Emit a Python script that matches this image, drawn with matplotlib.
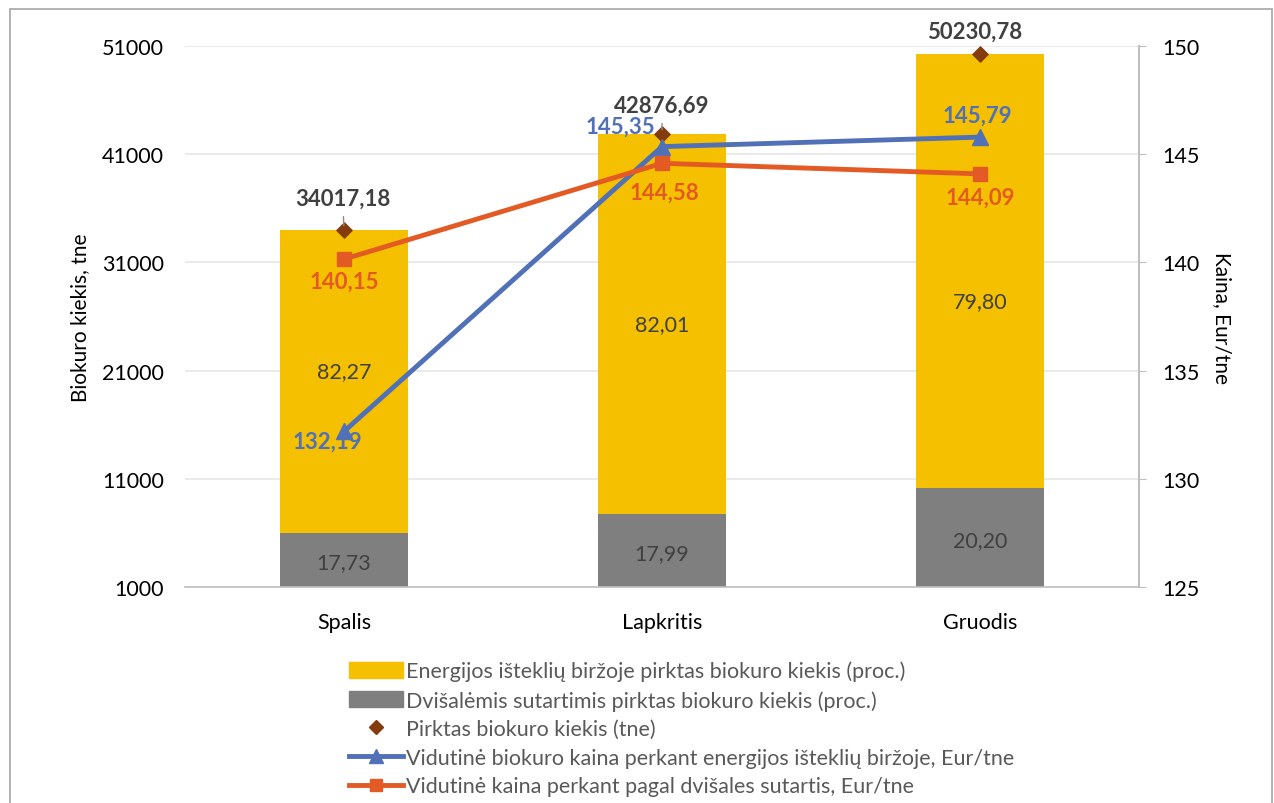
import matplotlib
matplotlib.use("Agg")
import matplotlib.pyplot as plt
from matplotlib.patches import Patch, Rectangle
from matplotlib.lines import Line2D

plt.rcParams['font.family'] = ['Lato', 'DejaVu Sans']

# duomenys
menesiai = ['Spalis', 'Lapkritis', 'Gruodis']
kiekis_tne = [34017.18, 42876.69, 50230.78]
birza_proc = [82.27, 82.01, 79.80]
dvisales_proc = [17.73, 17.99, 20.20]
kaina_birza = [132.19, 145.35, 145.79]
kaina_dvisales = [140.15, 144.58, 144.09]

c_geltona = '#F4C000'
c_pilka = '#7F7F7F'
c_melyna = '#5070B8'
c_oranzine = '#E35A24'
c_ruda = '#843C0C'
c_tekstas = '#404040'
fs = 15.5

def fmt(v):
    return f'{v:.2f}'.replace('.', ',')

fig = plt.figure(figsize=(12.74, 8.04), dpi=100)
ax = fig.add_axes([185/1274, 1-588/804, (1139-185)/1274, (588-47)/804])
ax2 = ax.twinx()

x = list(range(len(menesiai)))
dvisales_tne = [k * p / 100 for k, p in zip(kiekis_tne, dvisales_proc)]
birza_tne = [k - d for k, d in zip(kiekis_tne, dvisales_tne)]

ax.bar(x, dvisales_tne, width=0.4, color=c_pilka, zorder=2)
ax.bar(x, birza_tne, width=0.4, bottom=dvisales_tne, color=c_geltona, zorder=2)
ax.scatter(x, kiekis_tne, marker='D', s=60, color=c_ruda, zorder=3)

ax.set_xlim(-0.5, 2.5)
ax.set_ylim(1000, 51000)
ax.set_yticks(range(1000, 51001, 10000))
ax.set_xticks(x)
ax.set_xticklabels(menesiai)
ax.grid(axis='y', color='#E6E6E6', lw=1.2, zorder=0)
ax.set_axisbelow(True)
for s in ['top', 'left', 'right']:
    ax.spines[s].set_visible(False)
ax.spines['bottom'].set_color('#BFBFBF')
ax.spines['bottom'].set_linewidth(1.2)
ax.tick_params(axis='y', length=0, labelsize=fs, colors='black', pad=15)
ax.tick_params(axis='x', length=0, labelsize=fs, colors='black', pad=18)
ax.set_ylabel('Biokuro kiekis, tne', fontsize=15, labelpad=9)

# procentai stulpeliuose
pct_dy = [10, 0, -30]
for i in x:
    apacia = max(dvisales_tne[i], 1000)
    ax.annotate(fmt(dvisales_proc[i]), xy=(i, (1000 + apacia) / 2), xytext=(0, -2),
                textcoords='offset points', ha='center', va='center', fontsize=fs, color=c_tekstas)
    ax.annotate(fmt(birza_proc[i]), xy=(i, (dvisales_tne[i] + kiekis_tne[i]) / 2),
                xytext=(0, pct_dy[i] * 0.72), textcoords='offset points',
                ha='center', va='center', fontsize=fs, color=c_tekstas)

# bendras kiekis
kiekis_off = [(-1, 23), (0, 21), (-4, 17)]
for i in x:
    arrow = dict(arrowstyle='-', color='#8C8C8C', lw=1, shrinkA=4, shrinkB=3) if i < 2 else None
    ax.annotate(fmt(kiekis_tne[i]), xy=(i, kiekis_tne[i]), xytext=kiekis_off[i],
                textcoords='offset points', ha='center', va='center', fontsize=16,
                fontweight='bold', color=c_tekstas, arrowprops=arrow)

ax2.plot(x, kaina_birza, color=c_melyna, lw=3.5, marker='^', markersize=11, zorder=4)
ax2.plot(x, kaina_dvisales, color=c_oranzine, lw=3.5, marker='s', markersize=10, zorder=4)
ax2.set_ylim(125, 150)
ax2.set_yticks(range(125, 151, 5))
for s in ['top', 'left', 'bottom']:
    ax2.spines[s].set_visible(False)
ax2.spines['right'].set_color('#BFBFBF')
ax2.spines['right'].set_linewidth(1.5)
ax2.tick_params(axis='y', direction='out', length=5, color='#BFBFBF', labelsize=fs,
                labelcolor='black', pad=12)
ax2.set_ylabel('Kaina, Eur/tne', fontsize=15, rotation=270, labelpad=23)

birza_off = [(-12, -7), (-30, 15), (-2, 16)]
for i in x:
    ax2.annotate(fmt(kaina_birza[i]), xy=(i, kaina_birza[i]), xytext=birza_off[i],
                 textcoords='offset points', ha='center', va='center', fontsize=16,
                 fontweight='bold', color=c_melyna, zorder=5)
dvisales_off = [(0, -16), (2, -21), (0, -17)]
for i in x:
    ax2.annotate(fmt(kaina_dvisales[i]), xy=(i, kaina_dvisales[i]), xytext=dvisales_off[i],
                 textcoords='offset points', ha='center', va='center', fontsize=16,
                 fontweight='bold', color=c_oranzine, zorder=5)

rankenos = [
    Patch(color=c_geltona),
    Patch(color=c_pilka),
    Line2D([], [], ls='none', marker='D', color=c_ruda, markersize=7),
    Line2D([], [], color=c_melyna, lw=3.5, marker='^', markersize=10),
    Line2D([], [], color=c_oranzine, lw=3.5, marker='s', markersize=9),
]
etiketes = [
    'Energijos išteklių biržoje pirktas biokuro kiekis (proc.)',
    'Dvišalėmis sutartimis pirktas biokuro kiekis (proc.)',
    'Pirktas biokuro kiekis (tne)',
    'Vidutinė biokuro kaina perkant energijos išteklių biržoje, Eur/tne',
    'Vidutinė kaina perkant pagal dvišales sutartis, Eur/tne',
]
leg = fig.legend(rankenos, etiketes, loc='upper left', bbox_to_anchor=(338/1274, 1-651/804),
                 frameon=False, fontsize=fs, handlelength=2.5, handleheight=0.75,
                 handletextpad=0.15, labelspacing=0.4, borderpad=0)
for t in leg.get_texts():
    t.set_color('#595959')

fig.patches.append(Rectangle((10/1274, -0.05), 1262/1274, 1.05 - 10/804,
                             transform=fig.transFigure, fill=False, edgecolor='#A6A6A6', lw=1.2))

fig.savefig('out.png', dpi=100)
